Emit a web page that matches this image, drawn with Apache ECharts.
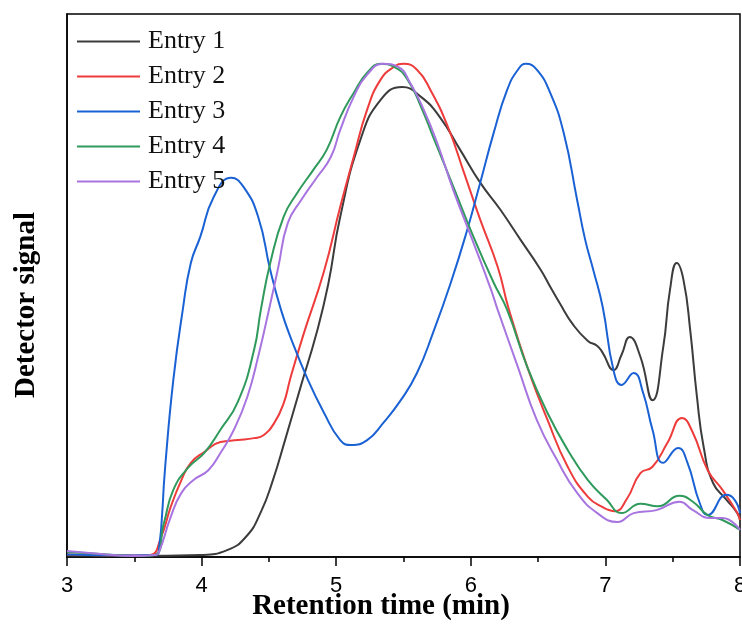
<!DOCTYPE html>
<html>
<head>
<meta charset="utf-8">
<script src="https://cdn.jsdelivr.net/npm/echarts@6/dist/echarts.min.js"></script>
<style>
  html, body { margin: 0; padding: 0; background: #fff; }
  #chart { width: 742px; height: 626px; }
</style>
</head>
<body>
<div id="chart"></div>
<script>
// retention time (min) and detector signal (scaled so the tallest peak = 100)
const names = ['Entry 1', 'Entry 2', 'Entry 3', 'Entry 4', 'Entry 5']
const colors = ['#3c3c3c', '#ee3b3b', '#1a62d4', '#2f9a5c', '#a875e0']
const xTicks = [3, 4, 5, 6, 7, 8]

const t1 = [3.0, 3.5, 3.99, 4.19, 4.33, 4.44, 4.53, 4.62, 4.74, 4.85, 4.94, 5.03, 5.18, 5.33, 5.49, 5.63, 5.77, 5.92, 6.07, 6.22, 6.37, 6.52, 6.59, 6.66, 6.76, 6.87, 6.94, 6.98, 7.06, 7.12, 7.18, 7.26, 7.35, 7.43, 7.48, 7.53, 7.58, 7.63, 7.68, 7.73, 7.80, 7.90, 7.98, 8.0]
const s1 = [0.3, 0.2, 0.4, 1.4, 4.1, 9.1, 15.6, 23.7, 34.9, 45.0, 55.2, 69.0, 84.6, 92.7, 95.3, 93.3, 89.2, 82.6, 75.9, 70.4, 64.3, 58.2, 54.8, 51.5, 47.1, 43.8, 42.8, 41.4, 37.9, 41.0, 44.6, 40.6, 31.8, 42.6, 54.2, 59.6, 56.2, 46.0, 32.5, 22.3, 15.0, 11.6, 8.9, 7.5]

const t2 = [3.0, 3.5, 3.62, 3.70, 3.77, 3.85, 3.92, 4.02, 4.14, 4.27, 4.39, 4.46, 4.54, 4.61, 4.66, 4.76, 4.91, 5.03, 5.13, 5.23, 5.33, 5.43, 5.50, 5.60, 5.70, 5.83, 5.95, 6.07, 6.20, 6.28, 6.42, 6.57, 6.72, 6.87, 6.98, 7.07, 7.16, 7.26, 7.35, 7.46, 7.57, 7.65, 7.76, 7.87, 7.98, 8.0]
const s2 = [0.5, 0.3, 0.4, 4.1, 10.1, 15.6, 19.1, 21.3, 23.3, 23.7, 24.1, 24.7, 27.2, 31.2, 36.3, 45.4, 58.0, 71.0, 81.1, 90.7, 96.8, 99.4, 100, 98.8, 94.7, 87.2, 77.9, 68.4, 58.8, 50.5, 38.5, 27.8, 18.3, 12.2, 10.1, 9.3, 11.8, 17.0, 18.3, 23.1, 28.2, 25.2, 17.6, 13.6, 8.9, 7.5]

const t3 = [3.0, 3.5, 3.65, 3.68, 3.73, 3.79, 3.86, 3.92, 3.99, 4.09, 4.22, 4.31, 4.42, 4.51, 4.59, 4.66, 4.79, 4.91, 5.03, 5.11, 5.23, 5.35, 5.48, 5.60, 5.72, 5.85, 5.97, 6.07, 6.17, 6.27, 6.35, 6.41, 6.49, 6.59, 6.69, 6.79, 6.85, 6.91, 6.98, 7.06, 7.12, 7.21, 7.28, 7.35, 7.43, 7.54, 7.61, 7.70, 7.76, 7.90, 7.96, 8.0]
const s3 = [0.5, 0.3, 0.4, 0.8, 18.5, 35.9, 50.1, 59.6, 64.9, 73.0, 76.9, 75.1, 69.0, 58.2, 50.1, 44.6, 35.9, 29.2, 23.7, 22.7, 23.7, 27.2, 31.8, 37.3, 45.5, 55.5, 66.0, 75.9, 86.0, 94.7, 98.8, 100, 98.8, 94.1, 86.0, 72.4, 64.3, 58.2, 50.7, 37.9, 34.9, 37.3, 33.3, 25.8, 19.1, 22.1, 19.1, 11.0, 8.5, 12.6, 11.6, 8.9]

const t4 = [3.0, 3.25, 3.5, 3.65, 3.72, 3.79, 3.90, 4.02, 4.14, 4.27, 4.39, 4.44, 4.51, 4.61, 4.71, 4.83, 4.93, 5.03, 5.13, 5.23, 5.33, 5.43, 5.53, 5.63, 5.72, 5.87, 6.02, 6.17, 6.27, 6.42, 6.57, 6.72, 6.87, 7.01, 7.12, 7.26, 7.39, 7.55, 7.65, 7.76, 7.87, 8.0]
const s4 = [1.0, 0.6, 0.2, 0.4, 6.9, 13.6, 18.1, 21.1, 25.8, 31.5, 42.0, 50.1, 59.6, 69.0, 73.8, 78.5, 82.6, 89.2, 94.1, 98.2, 100, 99.4, 96.8, 91.3, 85.2, 75.1, 64.9, 55.6, 50.1, 38.5, 29.2, 21.7, 15.6, 11.6, 8.9, 10.8, 10.3, 12.4, 11.2, 8.5, 7.5, 5.5]

const t5 = [3.0, 3.25, 3.5, 3.65, 3.68, 3.77, 3.85, 3.94, 4.05, 4.14, 4.24, 4.34, 4.42, 4.50, 4.57, 4.64, 4.74, 4.86, 4.96, 5.03, 5.13, 5.23, 5.35, 5.46, 5.55, 5.65, 5.75, 5.87, 6.02, 6.15, 6.20, 6.35, 6.49, 6.64, 6.79, 6.94, 7.09, 7.21, 7.38, 7.55, 7.65, 7.78, 7.87, 8.0]
const s5 = [1.2, 0.6, 0.2, 0.4, 0.8, 8.1, 13.0, 15.6, 17.6, 21.1, 25.8, 32.5, 40.6, 50.1, 58.8, 67.7, 72.4, 77.1, 81.1, 86.6, 93.3, 97.8, 100, 99.4, 96.1, 90.7, 84.0, 74.4, 63.7, 54.2, 50.1, 38.5, 27.8, 19.7, 13.0, 8.9, 7.1, 8.9, 9.5, 11.2, 9.5, 7.9, 7.9, 5.5]

const times = [t1, t2, t3, t4, t5]
const signals = [s1, s2, s3, s4, s5]

function pairs(t, s) {
  return t.map((x, i) => [x, s[i]])
}

const chart = echarts.init(document.getElementById('chart'))

const series = names.map((name, i) => ({
  name,
  type: 'line',
  smooth: 0.5,
  symbol: 'none',
  lineStyle: { width: 2, color: colors[i] },
  itemStyle: { color: colors[i] },
  data: pairs(times[i], signals[i])
}))

chart.setOption({
  animation: false,
  grid: {
    left: 67, right: 2, top: 14, bottom: 69,
    outerBoundsMode: 'none',
    containLabel: false,
    show: true, borderColor: '#000', borderWidth: 1.5
  },
  legend: {
    orient: 'vertical',
    left: 72, top: 23,
    icon: 'rect',
    itemWidth: 63, itemHeight: 2, itemGap: 8,
    textStyle: {
      fontFamily: 'Liberation Serif', fontSize: 26, lineHeight: 27,
      color: '#111', padding: [0, 0, 0, 3]
    },
    data: names
  },
  xAxis: {
    type: 'value',
    min: xTicks[0], max: xTicks[xTicks.length - 1], interval: 1,
    axisLine: { show: true, lineStyle: { color: '#000', width: 1.5 } },
    axisTick: { show: true, inside: false, length: 9, lineStyle: { color: '#000', width: 1.5 } },
    minorTick: { show: true, splitNumber: 2, length: 5, lineStyle: { color: '#000', width: 1.5 } },
    splitLine: { show: false },
    axisLabel: {
      margin: 18, fontSize: 22, fontFamily: 'Liberation Sans', color: '#000',
      formatter: v => String(v)
    }
  },
  yAxis: {
    type: 'value',
    min: 0, max: 110.1,
    axisLine: { show: true, lineStyle: { color: '#000', width: 1.5 } },
    axisTick: { show: false },
    axisLabel: { show: false },
    splitLine: { show: false }
  },
  graphic: [
    {
      type: 'text', x: 381, y: 607,
      style: {
        text: 'Retention time (min)', font: 'bold 29px "Liberation Serif"',
        fill: '#000', align: 'center', verticalAlign: 'middle'
      }
    },
    {
      type: 'text', x: 27, y: 305, rotation: Math.PI / 2,
      style: {
        text: 'Detector signal', font: 'bold 29px "Liberation Serif"',
        fill: '#000', align: 'center', verticalAlign: 'middle'
      }
    }
  ],
  series
})
</script>
</body>
</html>
